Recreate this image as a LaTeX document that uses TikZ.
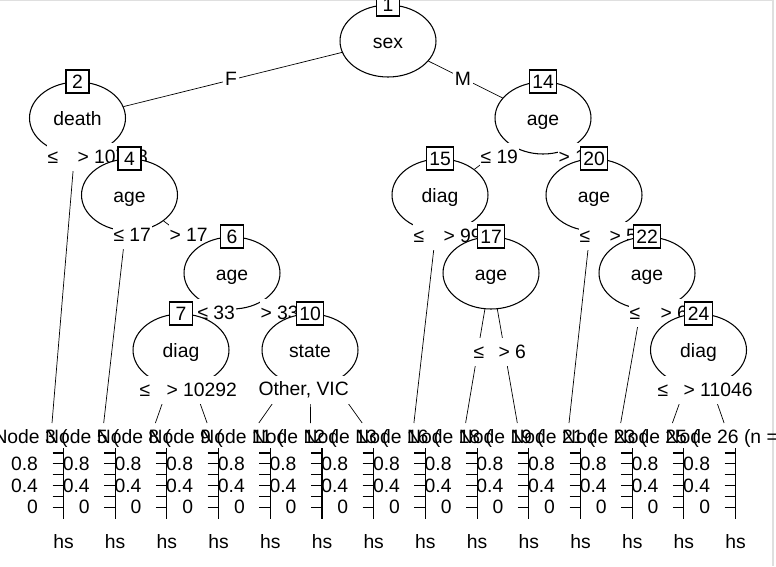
\documentclass[tikz,border=0pt]{standalone}
\usepackage{fontspec}
\setmainfont{Liberation Sans}
\usepackage{tikz}
\usetikzlibrary{positioning, shapes.geometric, backgrounds}

\begin{document}
\begin{tikzpicture}[x=0.02cm, y=-0.02cm, line width=0.6pt,
        font=\fontsize{11}{13}\selectfont,
        splitnode/.style={ellipse, draw, fill=white, minimum width=1.92cm, minimum height=1.44cm, inner sep=0pt, text height=1em, text depth=0.15em},
        idbox/.style={draw, fill=white, minimum width=0.46cm, minimum height=0.46cm, inner xsep=0.06cm, inner ysep=0pt},
        edgelab/.style={fill=white, anchor=west, inner xsep=0.02cm, inner ysep=0pt, minimum height=0.56cm},
        ticklab/.style={anchor=east, inner sep=0pt}]

    \useasboundingbox (0,0) rectangle (776,566);
    % window frame
    \draw[gray!25, line width=1pt] (0,0.5) -- (773,0.5) -- (773,566);

    % --- terminal nodes ---
    \foreach \k [count=\i from 0] in {3,5,8,9,11,12,13,16,18,19,21,23,25,26} {
        \pgfmathsetmacro{\tx}{52+51.7*\i}
        \pgfmathsetmacro{\ax}{\tx+11.5}
        \coordinate (t\k) at (\tx,423);
        \node[anchor=west, inner sep=0pt] (title\k) at (\tx-59,438) {Node \k{} (\ifnum\k=26 n =\fi};
        % Axis
        \draw (\ax,448) -- (\ax,519);
        \foreach \v in {0,...,5} {
            \draw (\ax-11,507.5-10.9*\v) -- (\ax,507.5-10.9*\v);
        }
        \node[ticklab] (ya\k) at (\ax-25,464) {0.8};
        \node[ticklab] (yb\k) at (\ax-25,486) {0.4};
        \node[ticklab] (yc\k) at (\ax-25,507) {0};
        \node (hs\k) at (\ax,542) {hs};
    }

    % --- inner nodes ---
    \node[splitnode] (n1) at (388,41) {sex};
    \node[idbox] (id1) at (n1.north) {1};
    \node[fill=white, inner sep=1pt] (l1a) at (231,79) {F};
    \node[fill=white, inner sep=1pt] (l1b) at (463,79) {M};

    \node[splitnode] (n2) at (77.5,118) {death};
    \node[idbox] (id2) at (n2.north) {2};
    \node[edgelab] (l2a) at (46,157) {≤\phantom{~10738}};
    \node[edgelab] (l2b) at (76,157) {> 10738};

    \node[splitnode] (n4) at (129.5,195) {age};
    \node[idbox] (id4) at (n4.north) {4};
    \node[edgelab] (l4a) at (112,235) {≤ 17};
    \node[edgelab] (l4b) at (168,235) {> 17};

    \node[splitnode] (n6) at (232,273) {age};
    \node[idbox] (id6) at (n6.north) {6};
    \node[edgelab] (l6a) at (196,313) {≤ 33};
    \node[edgelab] (l6b) at (259,313) {> 33};

    \node[splitnode] (n7) at (181,350) {diag};
    \node[idbox] (id7) at (n7.north) {7};
    \node[edgelab] (l7a) at (138,390) {≤\phantom{~10292}};
    \node[edgelab] (l7b) at (165,390) {> 10292};

    \node[splitnode] (n10) at (310,350) {state};
    \node[idbox] (id10) at (n10.north) {10};
    \node[edgelab] (l10) at (257,390) {Other, VIC};

    \node[splitnode] (n14) at (543,118) {age};
    \node[idbox] (id14) at (n14.north) {14};
    \node[edgelab] (l14a) at (479,157) {≤ 19};
    \node[edgelab] (l14b) at (557,157) {> 19};

    \node[splitnode] (n15) at (440,195) {diag};
    \node[idbox] (id15) at (n15.north) {15};
    \node[edgelab] (l15a) at (412,236) {≤\phantom{~9999}};
    \node[edgelab] (l15b) at (442,236) {> 99};

    \node[splitnode] (n17) at (491,273) {age};
    \node[idbox] (id17) at (n17.north) {17};
    \node[edgelab] (l17a) at (472,352) {≤\phantom{~6}};
    \node[edgelab] (l17b) at (497,352) {> 6};

    \node[splitnode] (n20) at (594,195) {age};
    \node[idbox] (id20) at (n20.north) {20};
    \node[edgelab] (l20a) at (578,236) {≤\phantom{~55}};
    \node[edgelab] (l20b) at (608,236) {> 5};

    \node[splitnode] (n22) at (647,273) {age};
    \node[idbox] (id22) at (n22.north) {22};
    \node[edgelab] (l22a) at (628,313) {≤\phantom{~66}};
    \node[edgelab] (l22b) at (659,313) {> 6};

    \node[splitnode] (n24) at (698.5,350) {diag};
    \node[idbox] (id24) at (n24.north) {24};
    \node[edgelab] (l24a) at (656,390) {≤\phantom{~11046}};
    \node[edgelab] (l24b) at (682,390) {> 11046};

    % --- edges ---
    \begin{scope}[on background layer]
        \draw (n1) -- (n2);
        \draw (n1) -- (n14);
        \draw (n2) -- (t3);
        \draw (n2) -- (n4);
        \draw (n4) -- (t5);
        \draw (n4) -- (n6);
        \draw (n6) -- (n7);
        \draw (n6) -- (n10);
        \draw (n7) -- (t8);
        \draw (n7) -- (t9);
        \draw (n10) -- (t11);
        \draw (n10) -- (t12);
        \draw (n10) -- (t13);
        \draw (n14) -- (n15);
        \draw (n14) -- (n20);
        \draw (n15) -- (t16);
        \draw (n15) -- (n17);
        \draw (n17) -- (t18);
        \draw (n17) -- (t19);
        \draw (n20) -- (t21);
        \draw (n20) -- (n22);
        \draw (n22) -- (t23);
        \draw (n22) -- (n24);
        \draw (n24) -- (t25);
        \draw (n24) -- (t26);
    \end{scope}
\end{tikzpicture}
\end{document}
